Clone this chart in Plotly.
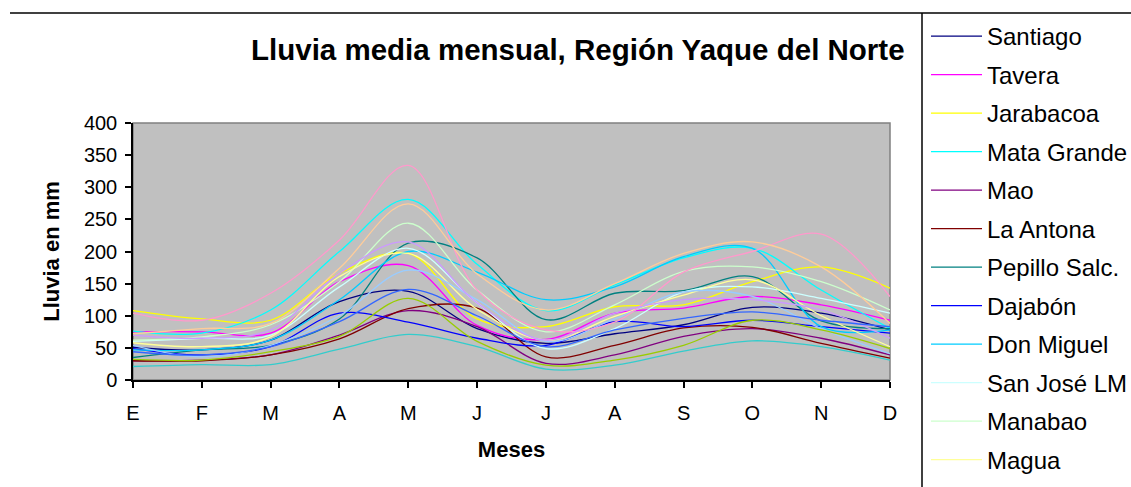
import plotly.graph_objects as go

months = ["E", "F", "M", "A", "M", "J", "J", "A", "S", "O", "N", "D"]

santiago    = [51, 47, 62, 122, 138, 80, 57, 72, 86, 113, 104, 78]
tavera      = [75, 75, 73, 153, 178, 85, 63, 104, 112, 130, 117, 93]
jarabacoa   = [108, 95, 93, 166, 197, 95, 83, 114, 117, 153, 176, 143]
mata_grande = [76, 73, 109, 200, 281, 180, 108, 148, 190, 205, 140, 80]
mao         = [30, 31, 39, 70, 108, 83, 26, 39, 68, 80, 65, 39]
la_antona   = [30, 30, 39, 64, 111, 112, 36, 54, 81, 82, 57, 34]
pepillo     = [35, 47, 54, 95, 213, 190, 94, 135, 139, 161, 92, 80]
dajabon     = [49, 39, 52, 104, 90, 65, 54, 91, 83, 93, 83, 73]
don_miguel  = [47, 47, 62, 125, 200, 168, 125, 145, 192, 205, 83, 78]
san_jose    = [60, 65, 70, 145, 205, 120, 49, 80, 137, 145, 127, 104]
manabao     = [62, 67, 86, 153, 244, 140, 75, 117, 169, 176, 153, 109]
magua       = [58, 52, 67, 161, 197, 110, 62, 99, 132, 156, 100, 52]
serie13     = [54, 36, 54, 100, 171, 125, 60, 95, 137, 130, 80, 41]
serie14     = [104, 93, 135, 218, 334, 140, 78, 90, 168, 200, 227, 130]
serie15     = [70, 65, 78, 166, 215, 120, 62, 104, 125, 125, 109, 65]
serie16     = [72, 80, 88, 174, 274, 165, 109, 150, 197, 215, 176, 88]
serie17     = [44, 39, 52, 91, 141, 100, 52, 78, 96, 106, 93, 83]
serie18     = [21, 24, 24, 48, 71, 52, 17, 23, 45, 61, 52, 31]
serie19     = [32, 31, 44, 68, 127, 60, 23, 31, 54, 93, 78, 49]

series = [
    ("Santiago", santiago, "#000080", True),
    ("Tavera", tavera, "#FF00FF", True),
    ("Jarabacoa", jarabacoa, "#FFFF00", True),
    ("Mata Grande", mata_grande, "#00FFFF", True),
    ("Mao", mao, "#800080", True),
    ("La Antona", la_antona, "#800000", True),
    ("Pepillo Salc.", pepillo, "#008080", True),
    ("Dajabón", dajabon, "#0000FF", True),
    ("Don Miguel", don_miguel, "#00CCFF", True),
    ("San José LM", san_jose, "#CCFFFF", True),
    ("Manabao", manabao, "#CCFFCC", True),
    ("Magua", magua, "#FFFF99", True),
    ("Serie 13", serie13, "#99CCFF", False),
    ("Serie 14", serie14, "#FF99CC", False),
    ("Serie 15", serie15, "#CC99FF", False),
    ("Serie 16", serie16, "#FFCC99", False),
    ("Serie 17", serie17, "#3366FF", False),
    ("Serie 18", serie18, "#33CCCC", False),
    ("Serie 19", serie19, "#99CC00", False),
]

x_idx = list(range(len(months)))

fig = go.Figure()
for name, vals, color, show in series:
    fig.add_trace(go.Scatter(
        x=x_idx, y=vals, name=name, mode="lines",
        line=dict(color=color, width=1.3, shape="spline", smoothing=1.0),
        showlegend=show, legendgroup=name,
    ))

FONT = "Liberation Sans, Arial, sans-serif"
L, R, T, B = 133, 890, 123, 380
W, H = 1131, 487
pw, ph = R - L, B - T

def px(xp):
    return (xp - L) / pw

def py(yp):
    return (B - yp) / ph

fig.update_layout(
    width=W, height=H, autosize=False,
    margin=dict(l=L, r=W - R, t=T, b=H - B, pad=0, autoexpand=False),
    paper_bgcolor="white",
    plot_bgcolor="#C0C0C0",
    font=dict(family=FONT, color="black", size=20),
    showlegend=True,
    legend=dict(
        x=px(926), y=py(14), xanchor="left", yanchor="top",
        font=dict(family=FONT, size=24, color="black"),
        traceorder="grouped", tracegroupgap=4.3,
        bgcolor="rgba(0,0,0,0)", borderwidth=0,
        itemwidth=51, maxheight=1,
    ),
    xaxis=dict(
        range=[0, 11], tickmode="array", tickvals=x_idx, ticktext=months,
        showgrid=False, zeroline=False, showline=True, linecolor="black", linewidth=1.5,
        ticks="outside", ticklen=6, tickwidth=2, tickcolor="black",
        tickfont=dict(family=FONT, size=20), ticklabelstandoff=8,
        title=dict(text="<b>Meses</b>", font=dict(family=FONT, size=22), standoff=19),
    ),
    yaxis=dict(
        range=[0, 400], tickmode="linear", tick0=0, dtick=50,
        showgrid=False, zeroline=False, showline=True, linecolor="black", linewidth=1.5,
        ticks="outside", ticklen=6, tickwidth=2, tickcolor="black",
        tickfont=dict(family=FONT, size=20), ticklabelstandoff=4,
        title=dict(text="<b>Lluvia en mm</b>", font=dict(family=FONT, size=22), standoff=18),
    ),
    shapes=[
        dict(type="rect", xref="paper", yref="paper", x0=0, x1=1, y0=0, y1=1,
             line=dict(color="#808080", width=1.5), layer="below"),
        dict(type="line", xref="paper", yref="paper", x0=px(10), x1=px(1131),
             y0=py(13), y1=py(13), line=dict(color="black", width=1.5)),
        dict(type="line", xref="paper", yref="paper", x0=px(922), x1=px(922),
             y0=py(13), y1=py(487), line=dict(color="black", width=1.5)),
    ],
    annotations=[
        dict(text="<b>Lluvia media mensual, Región Yaque del Norte</b>",
             xref="paper", yref="paper", x=px(578), y=py(50),
             xanchor="center", yanchor="middle", showarrow=False,
             font=dict(family=FONT, size=29.5, color="black")),
    ],
)

fig.write_html("out.html",
               config=dict(responsive=False, displayModeBar=False),
               post_script="document.body.style.margin='0';")
